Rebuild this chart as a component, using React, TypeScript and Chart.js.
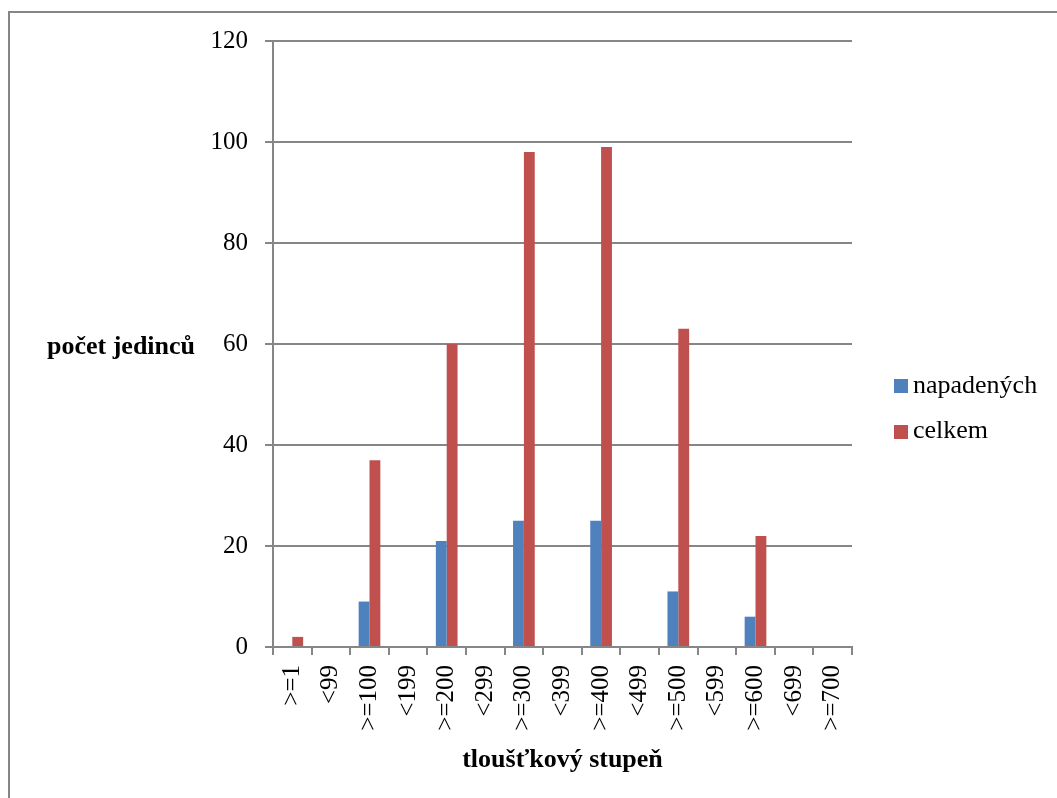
import React, { useEffect, useRef } from "react";
import { Chart, registerables } from "chart.js";

Chart.register(...registerables);

const categories = [">=1", "<99", ">=100", "<199", ">=200", "<299", ">=300", "<399", ">=400", "<499", ">=500", "<599", ">=600", "<699", ">=700"];
const napadenych = [0, 0, 9, 0, 21, 0, 25, 0, 25, 0, 11, 0, 6, 0, 0];
const celkem = [2, 0, 37, 0, 60, 0, 98, 0, 99, 0, 63, 0, 22, 0, 0];
const seriesNames = ["napadených", "celkem"];
const seriesColors = ["#4F81BD", "#C0504D"];
const yMin = 0;
const yMax = 120;
const yStep = 20;
const xTitle = "tloušťkový stupeň";
const yTitle = "počet jedinců";

const FONT = "'Liberation Serif', 'Times New Roman', serif";
const GRID = "#868686";

export default function App() {
  const ref = useRef<HTMLCanvasElement | null>(null);

  useEffect(() => {
    if (!ref.current) return;
    const chart = new Chart(ref.current, {
      type: "bar",
      data: {
        labels: categories,
        datasets: [
          { label: seriesNames[0], data: napadenych, backgroundColor: seriesColors[0], borderWidth: 0 },
          { label: seriesNames[1], data: celkem, backgroundColor: seriesColors[1], borderWidth: 0 },
        ],
      },
      options: {
        responsive: false,
        animation: false,
        datasets: { bar: { categoryPercentage: 0.562, barPercentage: 1 } },
        layout: { padding: { left: 0, top: 41, right: 205, bottom: 0 } },
        plugins: { legend: { display: false }, tooltip: { enabled: false }, title: { display: false } },
        scales: {
          x: {
            offset: true,
            grid: { offset: true, drawOnChartArea: false, drawTicks: true, tickLength: 8, color: GRID, lineWidth: 2 },
            border: { color: GRID, width: 2 },
            ticks: {
              autoSkip: false,
              minRotation: 90,
              maxRotation: 90,
              padding: 10,
              color: "#000",
              font: { family: FONT, size: 25 },
            },
            title: {
              display: true,
              text: xTitle,
              color: "#000",
              font: { family: FONT, size: 26, weight: "bold" },
              padding: { top: 0, bottom: 22 },
            },
            afterFit: (s: any) => {
              s.height = 151;
            },
          },
          y: {
            min: yMin,
            max: yMax,
            grid: { color: GRID, lineWidth: 2, tickLength: 8 },
            border: { color: GRID, width: 2 },
            ticks: {
              stepSize: yStep,
              padding: 17,
              color: "#000",
              font: { family: FONT, size: 25 },
            },
            afterFit: (s: any) => {
              s.width = 273;
            },
          },
        },
      },
    });
    return () => chart.destroy();
  }, []);

  const textStyle: React.CSSProperties = {
    position: "absolute",
    fontFamily: FONT,
    fontSize: 26,
    lineHeight: "26px",
    color: "#000",
    whiteSpace: "nowrap",
  };

  return (
    <div style={{ position: "fixed", left: 0, top: 0, width: 1057, height: 798, overflow: "hidden", background: "#fff" }}>
      <div
        style={{
          position: "absolute",
          left: 8,
          top: 11,
          width: 1200,
          height: 1000,
          border: `2px solid ${GRID}`,
          boxSizing: "border-box",
        }}
      />
      <canvas ref={ref} width={1057} height={798} style={{ position: "absolute", left: 0, top: 0, width: 1057, height: 798 }} />
      <div style={{ ...textStyle, left: 47, top: 333, fontWeight: "bold" }}>{yTitle}</div>
      {seriesNames.map((name, i) => (
        <React.Fragment key={name}>
          <div
            style={{
              position: "absolute",
              left: 894,
              top: 379 + i * 46,
              width: 14,
              height: 14,
              background: seriesColors[i],
            }}
          />
          <div style={{ ...textStyle, left: 913, top: 372 + i * 45 }}>{name}</div>
        </React.Fragment>
      ))}
    </div>
  );
}
